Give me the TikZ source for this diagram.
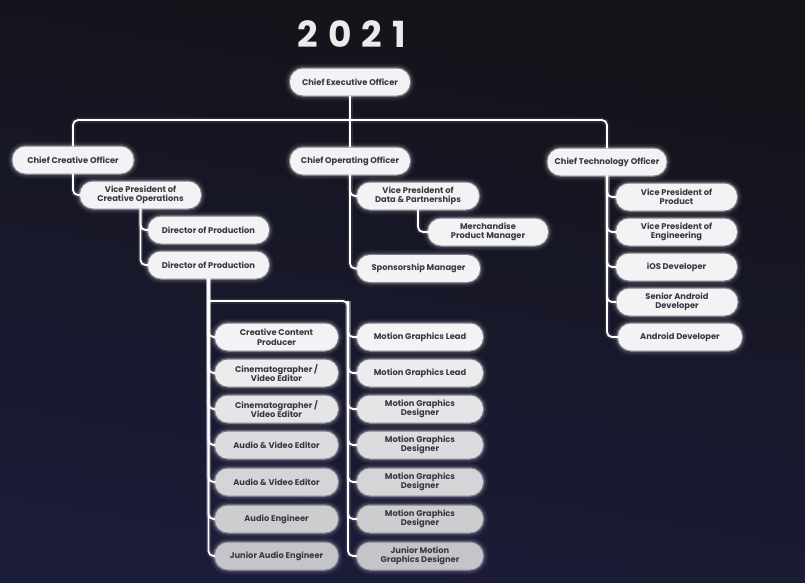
\documentclass[tikz,border=0pt]{standalone}
\usepackage{fontspec}
\setmainfont{Poppins}
\newfontfamily\titlefont{Poppins}
\definecolor{bgtop}{HTML}{131318}
\definecolor{bgbot}{HTML}{1B1C39}
\definecolor{txt}{HTML}{383842}
\definecolor{fA}{HTML}{F3F3F5}
\definecolor{fB}{HTML}{ECECEE}
\definecolor{fC}{HTML}{E5E5E8}
\definecolor{fD}{HTML}{DCDCDF}
\definecolor{fE}{HTML}{D5D5D8}
\definecolor{fF}{HTML}{CDCDD0}
\definecolor{fG}{HTML}{C5C5C9}
\pgfdeclarelayer{bg}
\pgfdeclarelayer{lines}
\pgfsetlayers{bg,lines,main}
\tikzset{
  box/.style={rectangle, rounded corners=13pt, fill=fA, text=txt,
    font=\bfseries\fontsize{8.3}{9.4}\selectfont, align=center,
    minimum width=121pt, minimum height=27pt, inner sep=0pt,
    preaction={draw=white, line width=10pt, opacity=0.05},
    preaction={draw=white, line width=6pt, opacity=0.10},
    preaction={draw=white, line width=2.5pt, opacity=0.35}},
  conn/.style={draw=white, line width=1.8pt, rounded corners=5pt,
    preaction={draw=white, line width=5pt, opacity=0.10}},
  titlestyle/.style={text=white!92!black, font=\titlefont\bfseries\fontsize{36}{38}\selectfont, inner sep=0pt}
}
\begin{document}
\begin{tikzpicture}[x=1pt,y=-1pt]
\useasboundingbox (0,0) rectangle (805,582);
\begin{pgfonlayer}{bg}
  \shade[top color=bgtop, bottom color=bgbot, shading angle=-10] (0,0) rectangle (805,582);
\end{pgfonlayer}

\node[titlestyle] (title) at (352,34) {2\hspace{10pt}0\hspace{10pt}2\hspace{10pt}1};

\node[box, minimum width=120pt] (ceo) at (350,82) {Chief Executive Officer};
\node[box] (cco) at (73,160) {Chief Creative Officer};
\node[box, minimum width=120pt] (coo) at (350,161) {Chief Operating Officer};
\node[box, minimum width=119pt] (cto) at (607,162) {Chief Technology Officer};

\node[box] (vpco) at (140.5,195) {Vice President of\\Creative Operations};
\node[box] (dir1) at (208.5,230) {Director of Production};
\node[box] (dir2) at (208.5,265) {Director of Production};

\node[box, minimum width=122pt] (vpdp) at (418,196) {Vice President of\\Data \& Partnerships};
\node[box, minimum width=120pt] (merch) at (488,232) {Merchandise\\Product Manager};
\node[box, minimum width=123pt] (spon) at (418.5,268.5) {Sponsorship Manager};

\node[box] (vpp) at (676.5,197) {Vice President of\\Product};
\node[box] (vpe) at (676.5,232) {Vice President of\\Engineering};
\node[box] (ios) at (676.5,267) {iOS Developer};
\node[box] (sad) at (677,302) {Senior Android\\Developer};
\node[box, minimum width=124pt] (and) at (680,337) {Android Developer};

\node[box, minimum width=123pt, fill=fA] (l1) at (276.5,337) {Creative Content\\Producer};
\node[box, minimum width=123pt, fill=fB] (l2) at (276.5,373) {Cinematographer /\\Video Editor};
\node[box, minimum width=123pt, fill=fC] (l3) at (276.5,409) {Cinematographer /\\Video Editor};
\node[box, minimum width=123pt, fill=fD] (l4) at (276.5,445) {Audio \& Video Editor};
\node[box, minimum width=123pt, fill=fE] (l5) at (276.5,482) {Audio \& Video Editor};
\node[box, minimum width=123pt, fill=fF] (l6) at (276.5,519) {Audio Engineer};
\node[box, minimum width=123pt, fill=fG] (l7) at (276.5,556) {Junior Audio Engineer};

\node[box, minimum width=126pt, fill=fA] (r1) at (420,337) {Motion Graphics Lead};
\node[box, minimum width=126pt, fill=fB] (r2) at (420,373) {Motion Graphics Lead};
\node[box, minimum width=126pt, fill=fC] (r3) at (420,409) {Motion Graphics\\Designer};
\node[box, minimum width=126pt, fill=fD] (r4) at (420,445) {Motion Graphics\\Designer};
\node[box, minimum width=126pt, fill=fE] (r5) at (420,482) {Motion Graphics\\Designer};
\node[box, minimum width=126pt, fill=fF] (r6) at (420,519) {Motion Graphics\\Designer};
\node[box, minimum width=126pt, fill=fG] (r7) at (420,556) {Junior Motion\\Graphics Designer};

\coordinate (bar) at (350,120);
\coordinate (mgtop) at (348,301);

\begin{pgfonlayer}{lines}
  \draw[conn] (ceo.south) -- (coo.north);
  \draw[conn] (cco.north) |- (bar) -| (cto.north);
  \draw[conn] (cco.south) |- (vpco.west);
  \draw[conn] (vpco.south) |- (dir1.west);
  \draw[conn] (vpco.south) |- (dir2.west);
  \foreach \n in {l1,l2,l3,l4,l5,l6,l7} \draw[conn] (dir2.south) |- (\n.west);
  \draw[conn] (dir2.south |- mgtop) -- (mgtop) |- (r7.west);
  \foreach \n in {r1,r2,r3,r4,r5,r6} \draw[conn] (mgtop) |- (\n.west);
  \draw[conn] (coo.south) |- (vpdp.west);
  \draw[conn] (coo.south) |- (spon.west);
  \draw[conn] (vpdp.south) |- (merch.west);
  \foreach \n in {vpp,vpe,ios,sad,and} \draw[conn] (cto.south) |- (\n.west);
\end{pgfonlayer}
\end{tikzpicture}
\end{document}
